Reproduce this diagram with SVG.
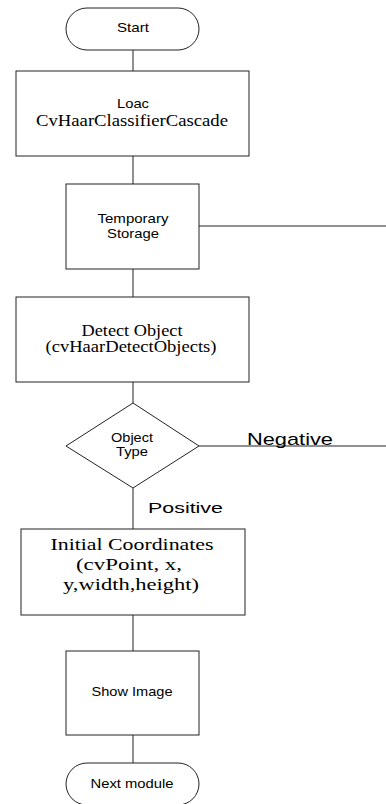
<svg xmlns="http://www.w3.org/2000/svg" width="386" height="804" viewBox="0 0 386 804">
<style>
.s{fill:#fff;stroke:#222;stroke-width:1}
.c{fill:none;stroke:#222;stroke-width:1}
.sa{font-family:"Liberation Sans",Arial,sans-serif;font-size:13px;fill:#000;text-anchor:middle}
.se{font-family:"Liberation Serif","Times New Roman",serif;font-size:16px;fill:#000;text-anchor:middle}
.lb{font-family:"Liberation Sans",Arial,sans-serif;fill:#000}
</style>
<rect width="386" height="804" fill="#fff"/>
<g id="connectors">
<line class="c" x1="133" y1="50" x2="133" y2="71"/>
<line class="c" x1="133" y1="156" x2="133" y2="184"/>
<line class="c" x1="199" y1="226" x2="386" y2="226"/>
<line class="c" x1="133" y1="269" x2="133" y2="297"/>
<line class="c" x1="133" y1="382" x2="133" y2="403"/>
<line class="c" x1="199" y1="446" x2="386" y2="446"/>
<line class="c" x1="133" y1="488" x2="133" y2="529"/>
<line class="c" x1="133" y1="615" x2="133" y2="651"/>
<line class="c" x1="133" y1="735" x2="133" y2="763"/>
<text class="lb" x="247" y="445" font-size="17" textLength="86" lengthAdjust="spacingAndGlyphs">Negative</text>
<text class="lb" x="148" y="513" font-size="15" textLength="75" lengthAdjust="spacingAndGlyphs">Positive</text>
</g>
<g id="start">
<rect class="s" x="66" y="8" width="133" height="42" rx="21" ry="21"/>
<text class="sa" x="133" y="32" textLength="32" lengthAdjust="spacingAndGlyphs">Start</text>
</g>
<g id="load">
<rect class="s" x="16" y="71" width="233" height="85"/>
<text class="sa" x="133" y="108" textLength="32" lengthAdjust="spacingAndGlyphs">Loac</text>
<text class="se" x="132" y="126" font-size="17" textLength="192" lengthAdjust="spacingAndGlyphs">CvHaarClassifierCascade</text>
</g>
<g id="storage">
<rect class="s" x="66" y="184" width="133" height="85"/>
<text class="sa" x="133" y="223" textLength="71" lengthAdjust="spacingAndGlyphs">Temporary</text>
<text class="sa" x="133" y="238" textLength="52" lengthAdjust="spacingAndGlyphs">Storage</text>
</g>
<g id="detect">
<rect class="s" x="16" y="297" width="233" height="85"/>
<text class="se" x="132" y="336" textLength="101" lengthAdjust="spacingAndGlyphs">Detect Object</text>
<text class="se" x="131" y="352" textLength="171" lengthAdjust="spacingAndGlyphs">(cvHaarDetectObjects)</text>
</g>
<g id="decision">
<polygon class="s" points="133,403 199,446 133,488 66,446"/>
<text class="sa" x="132" y="442" font-size="12" textLength="42" lengthAdjust="spacingAndGlyphs">Object</text>
<text class="sa" x="132" y="456" font-size="12" textLength="32" lengthAdjust="spacingAndGlyphs">Type</text>
</g>
<g id="coords">
<rect class="s" x="21" y="529" width="224" height="86"/>
<text class="se" x="132" y="550" font-size="18" textLength="163" lengthAdjust="spacingAndGlyphs">Initial Coordinates</text>
<text class="se" x="129" y="570" font-size="18" textLength="106" lengthAdjust="spacingAndGlyphs">(cvPoint, x,</text>
<text class="se" x="131" y="590" font-size="18" textLength="136" lengthAdjust="spacingAndGlyphs">y,width,height)</text>
</g>
<g id="show">
<rect class="s" x="66" y="651" width="133" height="84"/>
<text class="sa" x="132" y="696" textLength="81" lengthAdjust="spacingAndGlyphs">Show Image</text>
</g>
<g id="next">
<rect class="s" x="66" y="763" width="133" height="42" rx="21" ry="21"/>
<text class="sa" x="132" y="788" textLength="83" lengthAdjust="spacingAndGlyphs">Next module</text>
</g>
</svg>
